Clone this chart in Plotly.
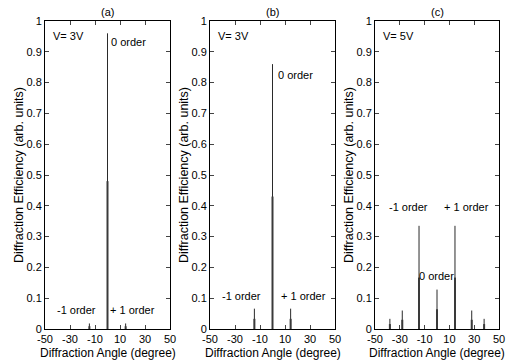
import plotly.graph_objects as go

# ---- data ----
panel_titles = ["(a)", "(b)", "(c)"]
voltage_labels = ["V= 3V", "V= 3V", "V= 5V"]

a_angle = [-14.5, 0, 14.5]
a_full = [0.018, 0.96, 0.018]
a_half = [0.009, 0.48, 0.009]

b_angle = [-14.5, 0, 14.5]
b_full = [0.066, 0.86, 0.066]
b_half = [0.033, 0.43, 0.033]

c_angle = [-38, -28, -14.5, 0, 14.5, 28, 38]
c_full = [0.033, 0.06, 0.335, 0.128, 0.335, 0.06, 0.033]
c_half = [0.016, 0.03, 0.167, 0.064, 0.167, 0.03, 0.016]

x_tickvals = [-50, -30, -10, 10, 30, 50]
x_ticktext = ["-50", "-30", "-10", "10", "30", "50"]

a_labels = [("0 order", 16.5, 0.932), ("-1 order", -24.5, 0.062), ("+ 1 order", 20, 0.062)]
b_labels = [("0 order", 18, 0.825), ("-1 order", -24.5, 0.107), ("+ 1 order", 24.5, 0.107)]
c_labels = [("-1 order", -23, 0.397), ("+ 1 order", 23.5, 0.397), ("0 order", -0.5, 0.172)]

panels = [
    (a_angle, a_full, a_half, a_labels),
    (b_angle, b_full, b_half, b_labels),
    (c_angle, c_full, c_half, c_labels),
]

W, H = 508, 362
x_domains = [(45 / W, 170 / W), (210 / W, 335 / W), (375 / W, 499 / W)]
y_domain = (1 - 329 / H, 1 - 21 / H)

FONT = "Liberation Sans, Arial, sans-serif"

fig = go.Figure()
annotations = []
layout = {}

def stems(xs, ys):
    sx, sy = [], []
    for x, y in zip(xs, ys):
        sx += [x, x, None]
        sy += [0, y, None]
    return sx, sy

for i, (ang, full, half, labels) in enumerate(panels):
    n = "" if i == 0 else str(i + 1)
    xa, ya = "x" + n, "y" + n
    sx, sy = stems(ang, full)
    fig.add_trace(go.Scatter(x=sx, y=sy, mode="lines", xaxis=xa, yaxis=ya,
                             line=dict(color="#2a2a2a", width=1), showlegend=False,
                             hoverinfo="skip"))
    hx, hy = stems(ang, half)
    fig.add_trace(go.Scatter(x=hx, y=hy, mode="lines", xaxis=xa, yaxis=ya,
                             line=dict(color="#3a3a3a", width=2), showlegend=False,
                             hoverinfo="skip"))
    axis_common = dict(showline=True, linecolor="black", linewidth=1, mirror="ticks",
                       ticks="inside", ticklen=4, tickcolor="#444", showgrid=False,
                       zeroline=False, automargin=False,
                       tickfont=dict(family=FONT, size=11, color="black"))
    layout["xaxis" + n] = dict(domain=x_domains[i], range=[-50, 50], anchor=ya,
                               tickvals=x_tickvals, ticktext=x_ticktext, ticklabelstandoff=0,
                               **axis_common)
    layout["yaxis" + n] = dict(domain=y_domain, range=[0, 1], anchor=xa,
                               dtick=0.1, tick0=0, **axis_common)
    x0, x1 = x_domains[i]
    xc = (x0 + x1) / 2
    annotations.append(dict(text=panel_titles[i], x=xc, y=1 - 12 / H, xref="paper", yref="paper",
                            xanchor="center", yanchor="middle",
                            showarrow=False, font=dict(family=FONT, size=11, color="black")))
    annotations.append(dict(text="Diffraction Angle (degree)", x=xc, y=1 - 352.5 / H,
                            xanchor="center", yanchor="middle",
                            xref="paper", yref="paper", showarrow=False,
                            font=dict(family=FONT, size=12, color="black")))
    annotations.append(dict(text="Diffraction Efficiency (arb. units)", x=x0 - 26 / W,
                            y=(y_domain[0] + y_domain[1]) / 2, xref="paper", yref="paper",
                            xanchor="center", yanchor="middle",
                            textangle=-90, showarrow=False,
                            font=dict(family=FONT, size=12.5, color="black")))
    annotations.append(dict(text=voltage_labels[i], x=-45, y=0.95, xref=xa, yref=ya,
                            xanchor="left", yanchor="middle", showarrow=False,
                            font=dict(family=FONT, size=11, color="black")))
    for txt, lx, ly in labels:
        annotations.append(dict(text=txt, x=lx, y=ly, xref=xa, yref=ya, showarrow=False,
                                xanchor="center", yanchor="middle",
                                font=dict(family=FONT, size=11, color="black")))

fig.update_layout(width=W, height=H, margin=dict(l=0, r=0, t=0, b=0, pad=0, autoexpand=False),
                  autosize=False,
                  paper_bgcolor="white", plot_bgcolor="white",
                  annotations=annotations, **layout)
fig.write_html("out.html", config={"displayModeBar": False},
               post_script="document.body.style.margin='0';document.body.style.overflow='hidden';")
